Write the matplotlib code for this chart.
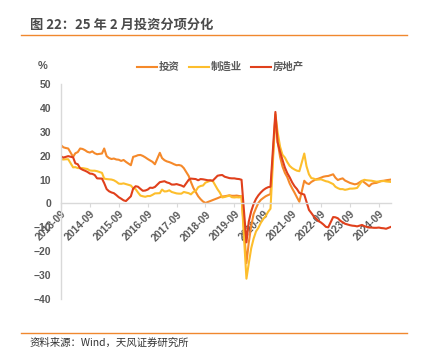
"""Line chart: 25年2月投资分项分化 (投资 / 制造业 / 房地产, cumulative yoy %)."""
import matplotlib
matplotlib.use("Agg")
import matplotlib.pyplot as plt
import matplotlib.dates as mdates
import pandas as pd

# monthly points, Jan is merged into Feb (no January prints)
all_months = pd.date_range("2013-09-01", "2025-02-01", freq="MS")
months = [m for m in all_months if m.month != 1]

invest = [
    24.4, 23.5, 23.2, 23.0,                                              # 2013 Sep-Dec
    19.5, 21.0, 21.5, 23.0, 22.8, 22.3, 21.6, 21.3, 21.8, 21.0, 20.6,    # 2014 Feb-Dec
    20.9, 23.0, 19.8, 19.0, 18.6, 18.8, 18.4, 18.3, 17.8, 18.2, 17.4,    # 2015
    16.0, 19.5, 19.8, 20.2, 20.3, 19.9, 19.3, 18.6, 18.0, 17.4, 16.4,    # 2016
    21.2, 19.0, 18.1, 17.6, 17.3, 16.9, 16.4, 16.0, 16.1, 15.8, 14.8,    # 2017
    11.5, 9.0, 6.5, 4.8, 3.0, 1.8, 0.8, 0.2, 0.6, 1.0, 1.4,              # 2018
    2.2, 2.6, 2.9, 3.0, 3.2, 3.4, 3.2, 3.2, 3.3, 3.1, 3.0,               # 2019
    -25.0, -16.5, -9.5, -4.5, -2.0, 0.2, 1.5, 2.3, 3.0, 3.5, 3.9,        # 2020
    36.0, 26.0, 19.5, 15.5, 12.8, 11.0, 8.3, 6.3, 4.5, 2.5, 0.7,         # 2021
    9.5, 8.5, 8.1, 9.0, 9.6, 10.1, 10.4, 10.8, 11.2, 11.4, 11.5,         # 2022
    12.2, 10.8, 9.8, 10.2, 10.5, 9.6, 9.1, 8.6, 8.3, 8.0, 8.2,           # 2023
    9.5, 8.8, 8.0, 7.2, 8.2, 8.5, 8.6, 9.0, 9.4, 9.5, 9.7,               # 2024
    10.0,                                                                # 2025 Feb
]
manuf = [
    18.5, 18.4, 18.5, 18.5,
    15.1, 15.2, 14.8, 14.8, 14.8, 14.6, 14.4, 13.8, 13.7, 13.7, 13.5,
    12.8, 10.4, 10.2, 10.1, 10.0, 9.7, 9.1, 8.3, 8.2, 8.4, 8.1,
    7.5, 6.4, 6.0, 4.6, 3.3, 3.0, 2.8, 3.1, 3.1, 3.6, 4.2,
    4.3, 5.8, 5.0, 5.1, 5.5, 4.8, 4.5, 4.2, 4.1, 4.1, 4.8,
    4.3, 3.8, 4.8, 5.2, 6.8, 7.3, 7.5, 8.7, 9.1, 9.5, 9.5,
    5.9, 4.6, 2.5, 2.7, 3.0, 3.3, 2.6, 2.5, 2.6, 2.5, 3.1,
    -31.5, -25.2, -18.8, -14.8, -11.7, -10.2, -8.1, -6.5, -5.3, -3.5, -2.2,
    37.3, 29.8, 23.8, 20.4, 19.2, 17.3, 15.7, 14.8, 14.2, 13.7, 13.5,
    20.9, 15.6, 12.2, 10.6, 10.4, 9.9, 10.0, 10.1, 9.7, 9.3, 9.1,
    8.1, 7.0, 6.4, 6.0, 6.0, 5.7, 5.9, 6.2, 6.2, 6.3, 6.5,
    9.4, 9.9, 9.7, 9.6, 9.5, 9.3, 9.1, 9.2, 9.3, 9.4, 9.2,
    9.0,
]
estate = [
    19.7, 19.2, 19.5, 19.8,
    19.3, 16.8, 16.4, 14.7, 14.1, 13.7, 13.2, 12.5, 12.4, 11.9, 10.5,
    10.4, 8.5, 6.0, 5.1, 4.6, 4.3, 3.5, 2.6, 2.0, 1.3, 1.0,
    3.0, 6.2, 7.2, 7.0, 6.1, 5.3, 5.4, 5.8, 6.6, 6.5, 6.9,
    8.9, 9.1, 9.3, 8.8, 8.5, 7.9, 7.9, 8.1, 7.8, 7.5, 7.0,
    9.9, 10.4, 10.3, 10.2, 9.7, 10.2, 10.1, 9.9, 9.7, 9.7, 9.5,
    11.6, 11.8, 11.9, 11.2, 10.9, 10.6, 10.5, 10.5, 10.3, 10.2, 9.9,
    -16.3, -7.7, -3.3, -0.3, 1.9, 3.4, 4.6, 5.6, 6.3, 6.8, 7.0,
    38.3, 25.6, 21.6, 18.3, 15.0, 12.7, 10.9, 8.8, 7.2, 6.0, 4.4,
    3.7, 0.7, -2.7, -4.0, -5.4, -6.4, -7.4, -8.0, -8.8, -9.8, -10.0,
    -5.7, -5.8, -6.2, -7.2, -7.9, -8.5, -8.8, -9.1, -9.3, -9.4, -9.6,
    -9.0, -9.5, -9.8, -10.1, -10.1, -10.2, -10.2, -10.1, -10.3, -10.4, -10.6,
    -9.8,
]
series_names = ["投资", "制造业", "房地产"]
tick_years = list(range(2013, 2025))

CJK = ["Noto Sans CJK SC", "DejaVu Sans"]
plt.rcParams["font.family"] = ["Liberation Sans", "Noto Sans CJK SC"]
GRAY = "#595959"
ACCENT = "#F0882E"


def main():
    fig = plt.figure(figsize=(4.21, 3.54), dpi=100)
    ax = fig.add_axes([0.1449, 0.1554, 0.7838, 0.6073])

    colors = ["#F5892A", "#FDBE2C", "#E0401C"]
    for vals, name, c in zip([invest, manuf, estate], series_names, colors):
        ax.plot(months, vals, color=c, lw=1.5, label=name)

    ax.set_ylim(-40, 50)
    ax.set_yticks(range(-40, 51, 10))
    ax.set_xlim(pd.Timestamp("2013-09-01"), pd.Timestamp("2025-02-01"))
    ticks = [pd.Timestamp(f"{y}-09-01") for y in tick_years]
    ax.set_xticks(ticks)
    ax.xaxis.set_major_formatter(mdates.DateFormatter("%Y-%m"))

    for s in ["top", "right"]:
        ax.spines[s].set_visible(False)
    ax.spines["bottom"].set_position(("data", 0))
    for s in ["left", "bottom"]:
        ax.spines[s].set_color("#D9D9D9")
        ax.spines[s].set_linewidth(1.0)
    ax.tick_params(axis="y", length=0, pad=7, labelsize=7.5, labelcolor=GRAY)
    ax.tick_params(axis="x", length=3, color="#D9D9D9", pad=1, labelsize=7.5, labelcolor=GRAY)
    for lab in ax.get_yticklabels():
        lab.set_fontweight("bold")
    for lab in ax.get_xticklabels():
        lab.set_fontweight("bold")
        lab.set_rotation(45)
        lab.set_ha("right")
        lab.set_va("top")
        lab.set_rotation_mode("anchor")

    ax.legend(loc="center left", bbox_to_anchor=(137 / 421, 1 - 67 / 354),
              bbox_transform=fig.transFigure, ncol=3, frameon=False,
              prop={"family": CJK, "size": 7.5, "weight": "bold"}, labelcolor=GRAY,
              handlelength=1.9, handletextpad=0.15, columnspacing=0.95, borderpad=0,
              borderaxespad=0)
    fig.text(43 / 421, 1 - 66 / 354, "%", ha="center", va="center", fontsize=8,
             color=GRAY, fontweight="bold")

    # header / footer
    fig.text(30 / 421, 1 - 25 / 354, "图 22：25 年 2 月投资分项分化", family=CJK,
             fontsize=9.5, fontweight="bold", color="#4A4A4A", ha="left", va="center")
    fig.add_artist(plt.Line2D([21 / 421, 407 / 421], [1 - 35 / 354] * 2, color=ACCENT, lw=1.0))
    fig.add_artist(plt.Line2D([21 / 421, 407 / 421], [1 - 333 / 354] * 2, color=ACCENT, lw=1.0))
    fig.text(30 / 421, 1 - 343 / 354, "资料来源：Wind，天风证券研究所", family=CJK,
             fontsize=7.5, color="#333333", ha="left", va="center")

    fig.savefig("out.png", dpi=100)


if __name__ == "__main__":
    main()
